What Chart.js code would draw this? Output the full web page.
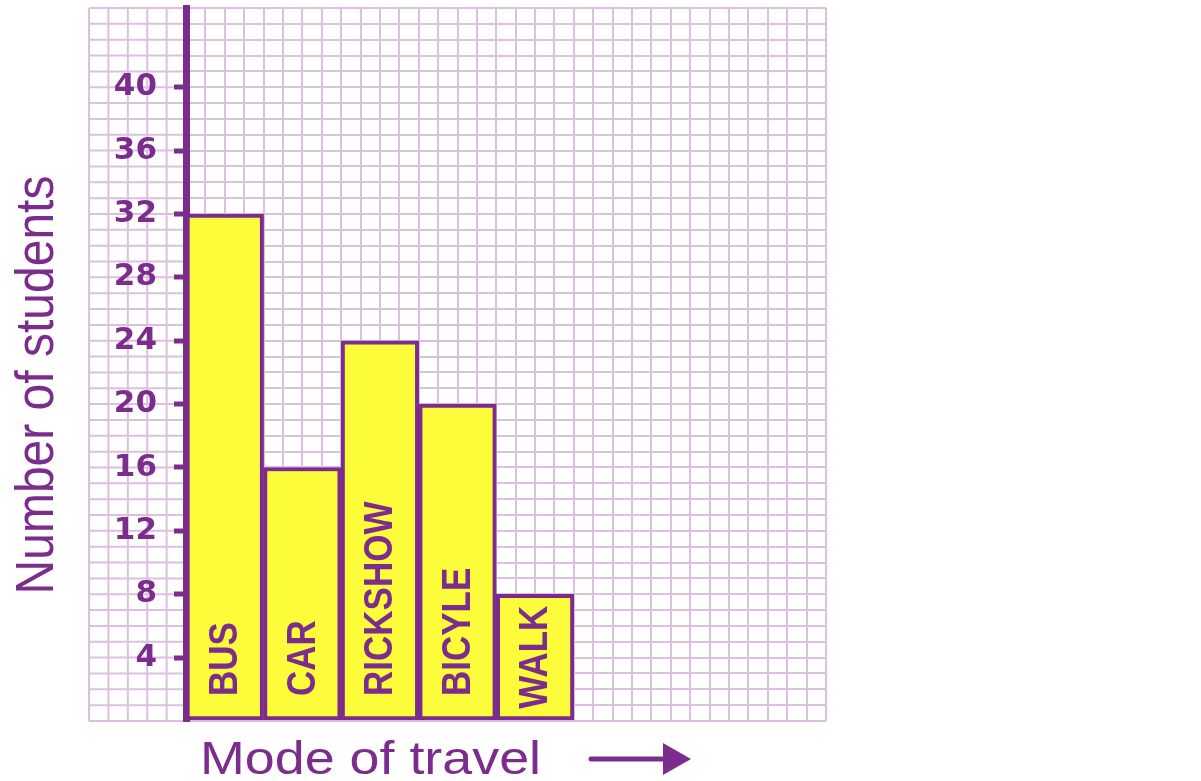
<!DOCTYPE html>
<html>
<head>
<meta charset="utf-8">
<script src="https://cdn.jsdelivr.net/npm/chart.js@4.4.1/dist/chart.umd.min.js"></script>
<style>
  html, body { margin: 0; padding: 0; background: #fff; }
  canvas { display: block; }
</style>
</head>
<body>
<canvas id="chart" width="1201" height="781"></canvas>
<script>
// Daten
const categories = ['BUS', 'CAR', 'RICKSHOW', 'BICYLE', 'WALK'];
const students = [32, 16, 24, 20, 8];
const yTickLabels = [4, 8, 12, 16, 20, 24, 28, 32, 36, 40];

const purple = '#7b2c8d';
const gridColor = '#dbc0df';
const barYellow = '#fcfc3a';

// Millimeterpapier links von der y-Achse weiterführen
const gridPaper = {
  id: 'gridPaper',
  beforeDraw(chart) {
    const {ctx, chartArea, scales: {x, y}} = chart;
    const left = x.getPixelForValue(-1.25);
    ctx.save();
    ctx.fillStyle = '#fff';
    ctx.fillRect(0, 0, chart.width, chart.height);
    ctx.strokeStyle = gridColor;
    ctx.lineWidth = 2;
    ctx.beginPath();
    for (let v = 0; v <= y.max; v++) {
      const py = y.getPixelForValue(v);
      ctx.moveTo(left, py);
      ctx.lineTo(chartArea.left, py);
    }
    for (let k = 1; k <= 5; k++) {
      const px = x.getPixelForValue(-k * 0.25);
      ctx.moveTo(px, chartArea.top);
      ctx.lineTo(px, chartArea.bottom);
    }
    ctx.stroke();
    ctx.restore();
  }
};

// Beschriftung senkrecht in den Balken
const barLabels = {
  id: 'barLabels',
  afterDatasetsDraw(chart) {
    const {ctx} = chart;
    const meta = chart.getDatasetMeta(0);
    ctx.save();
    ctx.font = 'bold 35px "Liberation Sans", Arial, sans-serif';
    ctx.fillStyle = purple;
    ctx.textBaseline = 'middle';
    ctx.textAlign = 'left';
    meta.data.forEach((bar, i) => {
      const text = categories[i];
      const len = ctx.measureText(text).width;
      const h = bar.base - bar.y;
      const gap = Math.min(24, (h - len) / 2);
      ctx.save();
      ctx.translate(bar.x + 1, bar.base - gap);
      ctx.scale(1.17, 1);
      ctx.rotate(-Math.PI / 2);
      ctx.fillText(text, 0, 0);
      ctx.restore();
    });
    ctx.restore();
  }
};

// Achsentitel und Pfeil
const axisTitles = {
  id: 'axisTitles',
  afterDraw(chart) {
    const {ctx, chartArea} = chart;
    ctx.save();
    ctx.fillStyle = purple;
    ctx.font = '48px "Liberation Sans", Arial, sans-serif';
    ctx.textAlign = 'center';
    ctx.textBaseline = 'alphabetic';
    ctx.save();
    ctx.translate(53, 385);
    ctx.scale(1.12, 1);
    ctx.rotate(-Math.PI / 2);
    ctx.fillText('Number of students', 0, 0);
    ctx.restore();

    ctx.font = '46px "Liberation Sans", Arial, sans-serif';
    ctx.textAlign = 'left';
    const tx = chartArea.left + 14;
    const ty = 774;
    const w = ctx.measureText('Mode of travel').width * 1.17;
    ctx.save();
    ctx.translate(tx, ty);
    ctx.scale(1.17, 1);
    ctx.fillText('Mode of travel', 0, 0);
    ctx.restore();

    // Pfeil
    const ax = tx + w + 50, ay = 759;
    ctx.strokeStyle = purple;
    ctx.lineWidth = 5;
    ctx.lineCap = 'round';
    ctx.beginPath();
    ctx.moveTo(ax, ay);
    ctx.lineTo(ax + 75, ay);
    ctx.stroke();
    ctx.beginPath();
    ctx.moveTo(ax + 72, ay - 16);
    ctx.lineTo(ax + 100, ay);
    ctx.lineTo(ax + 72, ay + 16);
    ctx.closePath();
    ctx.fill();
    ctx.restore();
  }
};

const noPadding = s => {
  s.paddingTop = 0;
  s.paddingBottom = 0;
  s.paddingLeft = 0;
  s.paddingRight = 0;
};

const ctx = document.getElementById('chart').getContext('2d');
const chart = new Chart(ctx, {
  type: 'bar',
  data: {
    datasets: [{
      data: categories.map((c, i) => ({x: i + 0.5, y: students[i]})),
      backgroundColor: barYellow,
      borderColor: purple,
      borderWidth: 4,
      borderSkipped: false,
      barThickness: 'flex',
      categoryPercentage: 1,
      barPercentage: 1
    }]
  },
  options: {
    responsive: false,
    animation: false,
    layout: {padding: {left: 0, top: 8, right: 375, bottom: 60}},
    plugins: {
      legend: {display: false},
      tooltip: {enabled: false}
    },
    scales: {
      x: {
        type: 'linear',
        min: 0,
        max: 8.25,
        offset: false,
        ticks: {display: false, stepSize: 0.25},
        grid: {color: gridColor, lineWidth: 2, drawTicks: false, offset: false},
        border: {display: false},
        afterFit: s => { s.height = 0; noPadding(s); }
      },
      y: {
        min: 0,
        max: 45,
        afterFit: s => { s.width = 186; noPadding(s); },
        ticks: {
          stepSize: 1,
          autoSkip: false,
          padding: 17,
          color: purple,
          font: {family: '"DejaVu Sans", sans-serif', weight: 'bold', size: 31},
          callback: v => yTickLabels.includes(v) ? String(v) : ''
        },
        grid: {
          color: gridColor,
          lineWidth: 2,
          tickLength: 12,
          tickWidth: 5,
          tickColor: c => (c.tick && yTickLabels.includes(c.tick.value)) ? purple : 'rgba(0,0,0,0)'
        },
        border: {display: true, color: purple, width: 7}
      }
    }
  },
  plugins: [gridPaper, barLabels, axisTitles]
});
</script>
</body>
</html>
